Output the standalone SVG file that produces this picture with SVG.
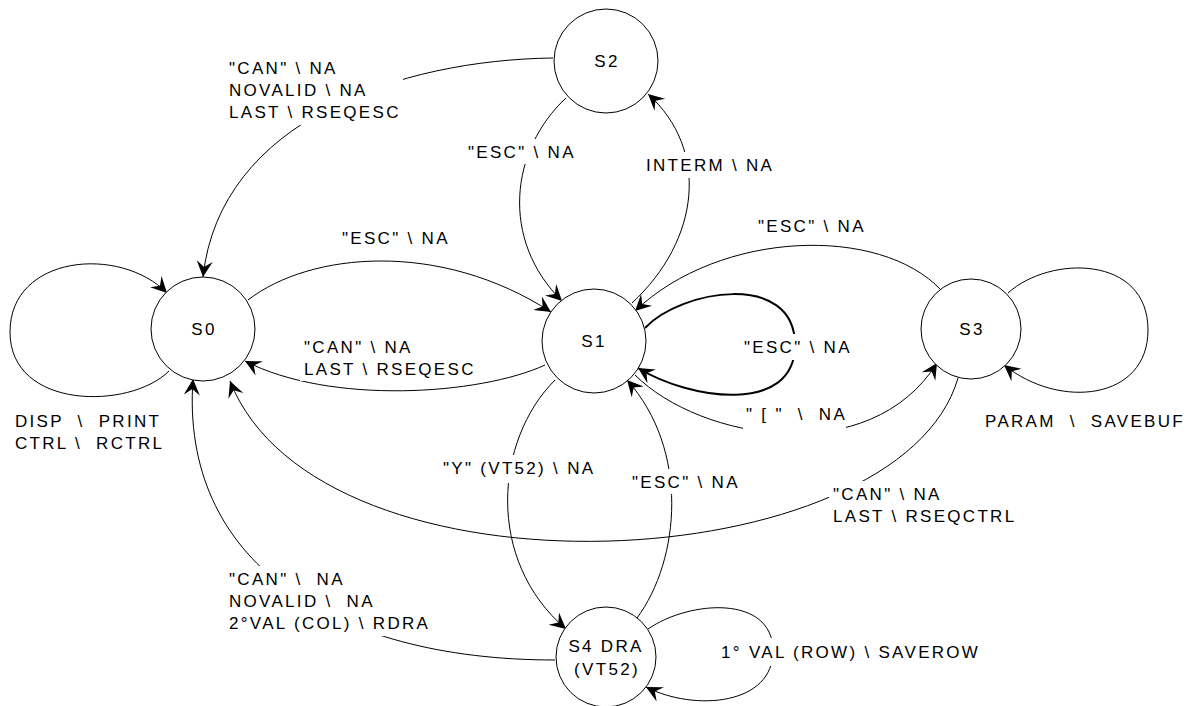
<svg xmlns="http://www.w3.org/2000/svg" width="1194" height="706" viewBox="0 0 1194 706">
  <style>
    .state { fill: #fff; stroke: #000; stroke-width: 1; }
    .edge { fill: none; stroke: #000; stroke-width: 1; marker-end: url(#arrow); }
    .edge.bold { stroke-width: 2; }
    .lbl { font-family: "Liberation Sans", Arial, Helvetica, sans-serif; font-size: 17px; letter-spacing: 2.3px; fill: #000; }
    .mid { text-anchor: middle; }
    .mask { fill: #fff; stroke: none; }
  </style>
  <defs>
    <marker id="arrow" viewBox="-17 -9 18 18" refX="0" refY="0" markerWidth="18" markerHeight="18" markerUnits="userSpaceOnUse" orient="auto">
      <path d="M0,0 L-16,-8 L-10,0 L-16,8 Z" fill="#000"/>
    </marker>
  </defs>
  <rect width="1194" height="706" fill="#fff"/>

  <!-- transitions -->
  <g id="connectors">
    <path class="edge" d="M553,58 C400,60 220,120 203,277"/>
    <path class="edge" d="M248,300 C310,252 440,240 551,312"/>
    <path class="edge" d="M545,365 C480,395 330,405 245,361"/>
    <path class="edge" d="M566,98 C510,150 500,240 562,301"/>
    <path class="edge" d="M632,303 C700,240 710,150 648,94"/>
    <path class="edge" d="M941,290 C880,225 720,230 635,311"/>
    <path class="edge bold" d="M645,328 C680,290 795,270 795,345 C795,415 690,400 638,368"/>
    <path class="edge" d="M635,375 C700,440 870,470 937,363"/>
    <path class="edge" d="M1008,293 C1050,255 1148,255 1148,330 C1148,400 1060,410 1004,365"/>
    <path class="edge" d="M169,371 C130,410 10,410 10,332 C10,255 120,245 167,293"/>
    <path class="edge" d="M958,378 C900,580 320,610 230,381"/>
    <path class="edge" d="M555,660 C330,660 180,560 193,379"/>
    <path class="edge" d="M555,380 C495,440 485,560 566,629"/>
    <path class="edge" d="M637,618 C680,560 690,450 627,380"/>
    <path class="edge" d="M648,629 C690,600 772,595 773,650 C774,705 695,712 646,687"/>
  </g>

  <!-- transition labels, each on a white box that interrupts its line -->
  <g id="edge-labels">
    <g id="lbl-s2-s0">
      <rect class="mask" x="225" y="55" width="178" height="70"/>
      <text class="lbl" x="229" y="74">"CAN" \ NA</text>
      <text class="lbl" x="229" y="96">NOVALID \ NA</text>
      <text class="lbl" x="229" y="118">LAST \ RSEQESC</text>
    </g>
    <g id="lbl-s2-s1">
      <rect class="mask" x="464" y="139" width="111" height="25"/>
      <text class="lbl" x="468" y="158">"ESC" \ NA</text>
    </g>
    <g id="lbl-s1-s2">
      <rect class="mask" x="642" y="152" width="132" height="26"/>
      <text class="lbl" x="646" y="171">INTERM \ NA</text>
    </g>
    <g id="lbl-s0-s1">
      <rect class="mask" x="338" y="226" width="111" height="24"/>
      <text class="lbl" x="342" y="244">"ESC" \ NA</text>
    </g>
    <g id="lbl-s3-s1">
      <rect class="mask" x="754" y="214" width="111" height="23"/>
      <text class="lbl" x="758" y="232">"ESC" \ NA</text>
    </g>
    <g id="lbl-s1-s0">
      <rect class="mask" x="300" y="334" width="175" height="47"/>
      <text class="lbl" x="304" y="353">"CAN" \ NA</text>
      <text class="lbl" x="304" y="375">LAST \ RSEQESC</text>
    </g>
    <g id="lbl-s1-s1">
      <rect class="mask" x="740" y="334" width="112" height="26"/>
      <text class="lbl" x="744" y="353">"ESC" \ NA</text>
    </g>
    <g id="lbl-s1-s3">
      <rect class="mask" x="743" y="401" width="103" height="36"/>
      <text class="lbl" x="746" y="420" xml:space="preserve">" [ "  \  NA</text>
    </g>
    <g id="lbl-s0-s0">
      <text class="lbl" x="15" y="427" xml:space="preserve">DISP  \  PRINT</text>
      <text class="lbl" x="15" y="449" xml:space="preserve">CTRL \  RCTRL</text>
    </g>
    <g id="lbl-s3-s3">
      <text class="lbl" x="985" y="427" xml:space="preserve">PARAM  \  SAVEBUF</text>
    </g>
    <g id="lbl-s1-s4">
      <rect class="mask" x="439" y="455" width="158" height="28"/>
      <text class="lbl" x="443" y="474">"Y" (VT52) \ NA</text>
    </g>
    <g id="lbl-s4-s1">
      <rect class="mask" x="628" y="469" width="111" height="25"/>
      <text class="lbl" x="632" y="488">"ESC" \ NA</text>
    </g>
    <g id="lbl-s3-s0">
      <rect class="mask" x="829" y="481" width="196" height="47"/>
      <text class="lbl" x="833" y="500">"CAN" \ NA</text>
      <text class="lbl" x="833" y="522">LAST \ RSEQCTRL</text>
    </g>
    <g id="lbl-s4-s0">
      <rect class="mask" x="225" y="566" width="208" height="70"/>
      <text class="lbl" x="229" y="585" xml:space="preserve">"CAN" \  NA</text>
      <text class="lbl" x="229" y="607" xml:space="preserve">NOVALID \  NA</text>
      <text class="lbl" x="229" y="629">2°VAL (COL) \ RDRA</text>
    </g>
    <g id="lbl-s4-s4">
      <rect class="mask" x="717" y="638" width="268" height="28"/>
      <text class="lbl" x="721" y="658">1° VAL (ROW) \ SAVEROW</text>
    </g>
  </g>

  <!-- states -->
  <g id="S0">
    <circle class="state" cx="203" cy="329" r="52"/>
    <text class="lbl mid" x="204" y="335">S0</text>
  </g>
  <g id="S1">
    <circle class="state" cx="594" cy="341" r="52"/>
    <text class="lbl mid" x="594" y="347">S1</text>
  </g>
  <g id="S2">
    <circle class="state" cx="606" cy="61" r="52"/>
    <text class="lbl mid" x="607" y="67">S2</text>
  </g>
  <g id="S3">
    <circle class="state" cx="971" cy="329" r="50"/>
    <text class="lbl mid" x="972" y="335">S3</text>
  </g>
  <g id="S4">
    <circle class="state" cx="606" cy="657" r="50"/>
    <text class="lbl mid" x="606" y="652">S4 DRA</text>
    <text class="lbl mid" x="607" y="675">(VT52)</text>
  </g>
</svg>
